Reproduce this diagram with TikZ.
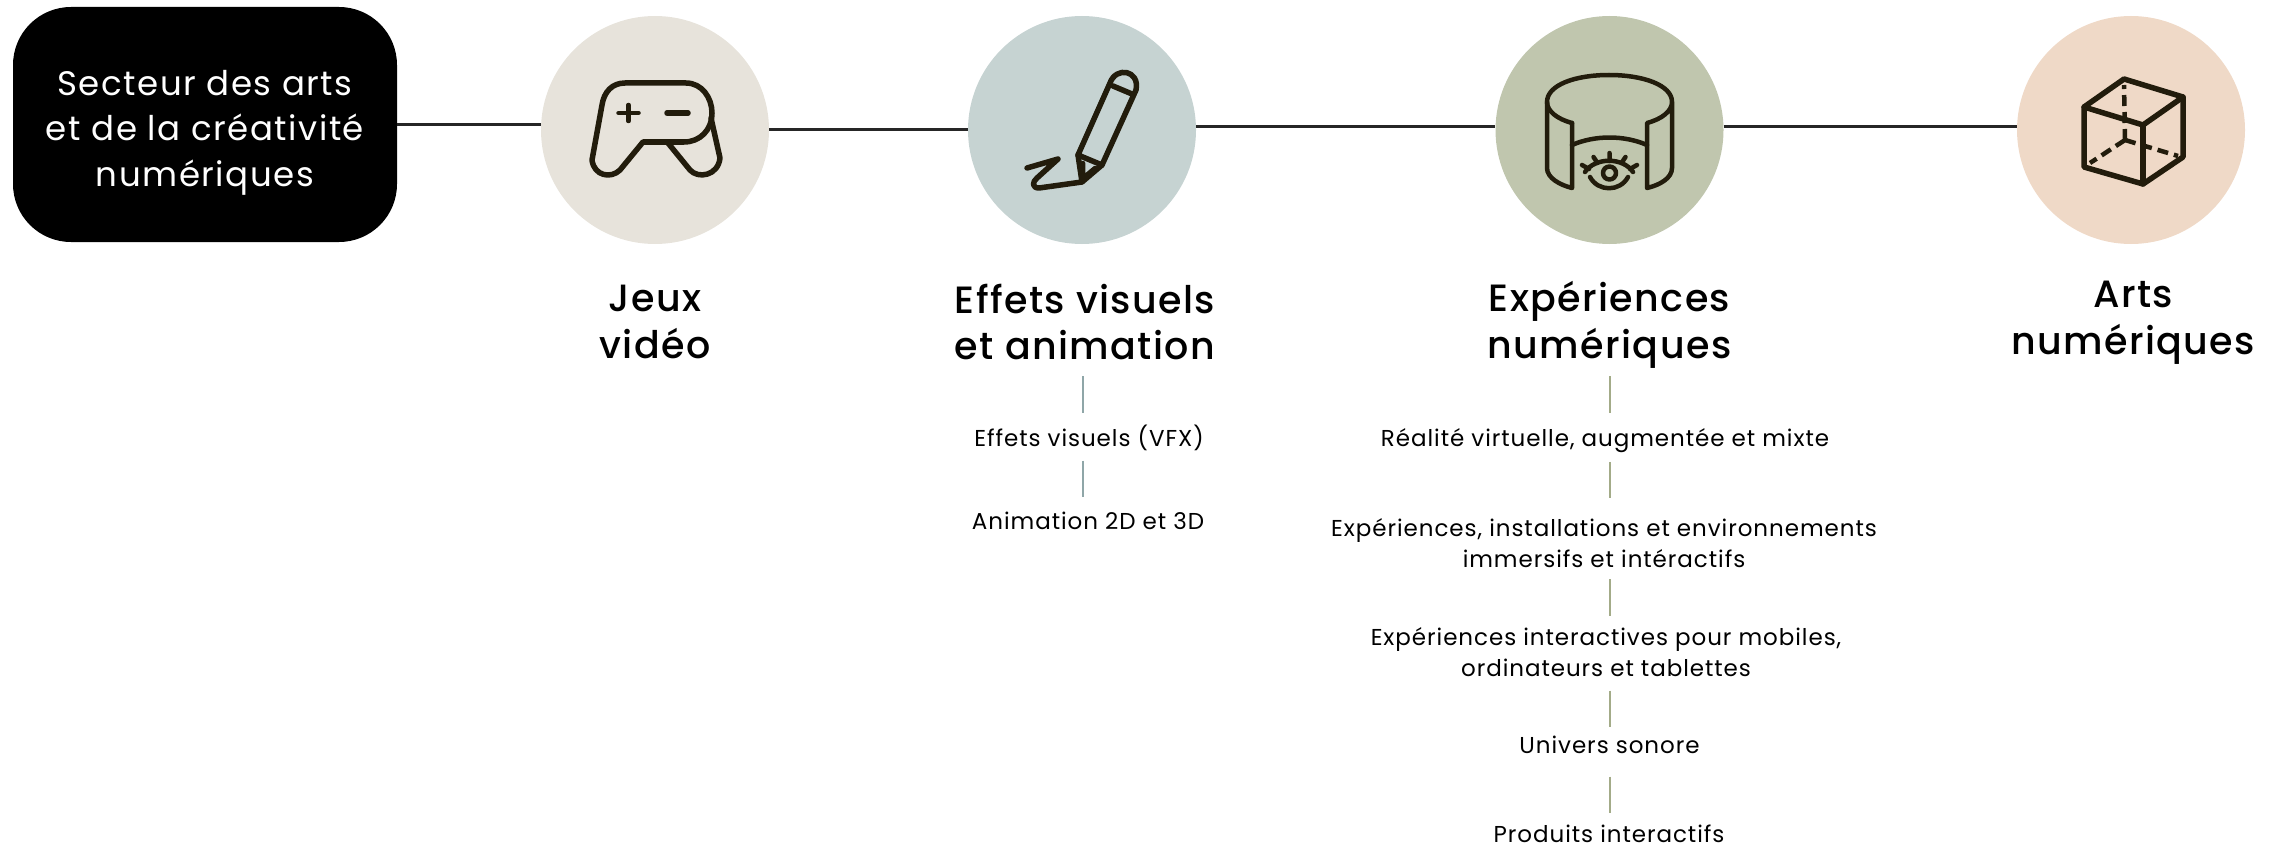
\documentclass[tikz,border=0pt]{standalone}
\usepackage{fontspec}
\setmainfont{Poppins}
\newfontfamily\headfont[LetterSpace=3.7]{Poppins Medium}
\newfontfamily\bodyfont[LetterSpace=4.1]{Poppins}
\newfontfamily\boxfont[LetterSpace=4.5]{Poppins}
\definecolor{ink}{HTML}{221C0C}
\definecolor{cgame}{HTML}{E7E3DB}
\definecolor{cfx}{HTML}{C6D3D2}
\definecolor{cxp}{HTML}{C0C6AE}
\definecolor{cart}{HTML}{EFD9C7}
\definecolor{vfx}{HTML}{8FA6A8}
\definecolor{vxp}{HTML}{A3AB88}
\tikzset{
  disc/.style={circle,inner sep=0,minimum size=228pt},
  mainline/.style={line width=3pt,draw=black!85},
  icon/.style={draw=ink,line width=5.5pt,line join=round,line cap=round},
  iconthin/.style={draw=ink,line width=4.5pt,line join=round,line cap=round},
  head/.style={align=center,inner sep=0,minimum height=110pt,font=\headfont\fontsize{38}{46.5}\selectfont},
  sub/.style={align=center,inner sep=0,font=\bodyfont\fontsize{23}{31}\selectfont},
  subone/.style={sub,minimum height=30pt},
  subtwo/.style={sub,minimum height=70pt},
  vl/.style={line width=2pt},
}
\begin{document}
\begin{tikzpicture}[x=1pt,y=-1pt]
\useasboundingbox (0,0) rectangle (2285,848);
\node[rectangle,rounded corners=58pt,fill=black,text=white,inner sep=0,minimum width=384pt,minimum height=235pt,align=center,font=\boxfont\fontsize{34}{45.5}\selectfont] (box) at (205,124.5) {\rule{0pt}{41pt}Secteur des arts\\et de la créativité\\numériques};
\node[disc,fill=cgame] (c1) at (655,130) {};
\node[disc,fill=cfx] (c2) at (1082,130) {};
\node[disc,fill=cxp] (c3) at (1609.5,130) {};
\node[disc,fill=cart] (c4) at (2131,130) {};
\draw[mainline] (box.east) -- (box.east -| c1.west);
\draw[mainline] (c1) -- (c2);
\draw[mainline] ([yshift=3pt]c2.east) -- ([yshift=3pt]c3.west);
\draw[mainline] ([yshift=3pt]c3.east) -- ([yshift=3pt]c4.west);
% gamepad
\draw[icon] (625,83) -- (686,83) .. controls (702,83) and (712,98) .. (712,113) .. controls (712,130) and (700,142) .. (684,142) -- (643,142) -- (620,170) .. controls (611,179) and (594,176) .. (592,160) -- (602,105) .. controls (604,92) and (612,83) .. (625,83) -- cycle;
\draw[icon] (668,143) -- (690,170) .. controls (698,179) and (718,176) .. (720,158) -- (711,118);
\draw[iconthin] (628.5,105) -- (628.5,121) (618.5,113) -- (638.5,113);
\draw[icon] (667,113) -- (688,113);
% pen
\draw[icon] (1078,155) -- (1110,83) .. controls (1116,66) and (1140,70) .. (1136,90) -- (1102,165) -- cycle;
\draw[icon] (1113,86) -- (1132,94);
\draw[icon] (1078,155) -- (1082,182) -- (1102,165);
\draw[iconthin] (1083,163) -- (1083,178) -- (1095,168);
\draw[icon] (1082,182) -- (1039,188) .. controls (1032,188) and (1032,182) .. (1037,178) -- (1058,159) -- (1027,168);
% cylinder and eye
\draw[iconthin] (1572,123) .. controls (1557,119) and (1547,111) .. (1547,102) .. controls (1547,85) and (1575,75) .. (1609,75) .. controls (1643,75) and (1672,85) .. (1672,102) .. controls (1672,111) and (1662,119) .. (1647,123) -- (1647,188) .. controls (1660,185) and (1672,178) .. (1672,168) -- (1672,102);
\draw[iconthin] (1547,102) -- (1547,168) .. controls (1547,178) and (1560,185) .. (1572,188) -- (1572,123);
\draw[iconthin] (1572,145) .. controls (1595,135) and (1624,135) .. (1647,145);
\draw[iconthin] (1585,172) .. controls (1595,157) and (1623,157) .. (1633,172);
\draw[iconthin] (1590,177) .. controls (1598,192) and (1620,192) .. (1628,177);
\draw[iconthin] (1609.5,173) circle (6.5pt);
\draw[iconthin] (1609.5,153) -- (1609.5,161) (1593.5,157) -- (1597.5,163) (1625.5,157) -- (1621.5,163) (1582,165) -- (1589,169) (1637,165) -- (1630,169);
% cube
\draw[icon] (2124,79) -- (2183,97) -- (2143,125) -- (2084,107) -- cycle;
\draw[icon] (2084,107) -- (2084,167) -- (2143,184) -- (2183,157) -- (2183,97);
\draw[icon] (2143,125) -- (2143,184);
\draw[icon,line width=4.5pt,line cap=butt,dash pattern=on 11pt off 6pt] (2125,140) -- (2124,85);
\draw[icon,line width=4.5pt,line cap=butt,dash pattern=on 11pt off 6pt] (2125,140) -- (2090,163);
\draw[icon,line width=4.5pt,line cap=butt,dash pattern=on 11pt off 6pt] (2125,140) -- (2178,156);
% headings
\node[head] (h1) at (655,322) {Jeux\\vidéo};
\node[head] (h2) at (1085,322) {Effets visuels\\et animation};
\node[head] (h3) at (1609.5,325) {Expériences\\numériques};
\node[head] (h4) at (2133,323) {Arts\\numériques};
% axes of the two lists
\coordinate (axb) at (1082.5,0);
\coordinate (axc) at (1609.5,0);
% sub-items
\node[subone] (s1) at (1089,438) {Effets visuels (VFX)};
\node[subone] (s2) at (1088,521) {Animation 2D et 3D};
\node[subone] (t1) at (1605,441) {Réalité virtuelle, augmentée et mixte};
\node[subtwo] (t2) at (1604,543) {Expériences, installations et environnements\\immersifs et intéractifs};
\node[subtwo] (t3) at (1606,652) {Expériences interactives pour mobiles,\\ordinateurs et tablettes};
\node[subone] (t4) at (1609.5,745) {Univers sonore};
\node[subone] (t5) at (1609,834) {Produits interactifs};
% list connectors
\draw[vl,draw=vfx,shorten <=-1pt,shorten >=10pt] (axb |- h2.south) -- (axb |- s1.north);
\draw[vl,draw=vfx,shorten <=7.5pt,shorten >=8.5pt] (axb |- s1.south) -- (axb |- s2.north);
\draw[vl,draw=vxp,shorten <=-4pt,shorten >=13pt] (axc |- h3.south) -- (axc |- t1.north);
\draw[vl,draw=vxp,shorten <=5.7pt,shorten >=9.4pt] (axc |- t1.south) -- (axc |- t2.north);
\draw[vl,draw=vxp,shorten <=1pt,shorten >=1pt] (axc |- t2.south) -- (axc |- t3.north);
\draw[vl,draw=vxp,shorten <=3.5pt,shorten >=2.6pt] (axc |- t3.south) -- (axc |- t4.north);
\draw[vl,draw=vxp,shorten <=16.4pt,shorten >=6pt] (axc |- t4.south) -- (axc |- t5.north);
\end{tikzpicture}
\end{document}
